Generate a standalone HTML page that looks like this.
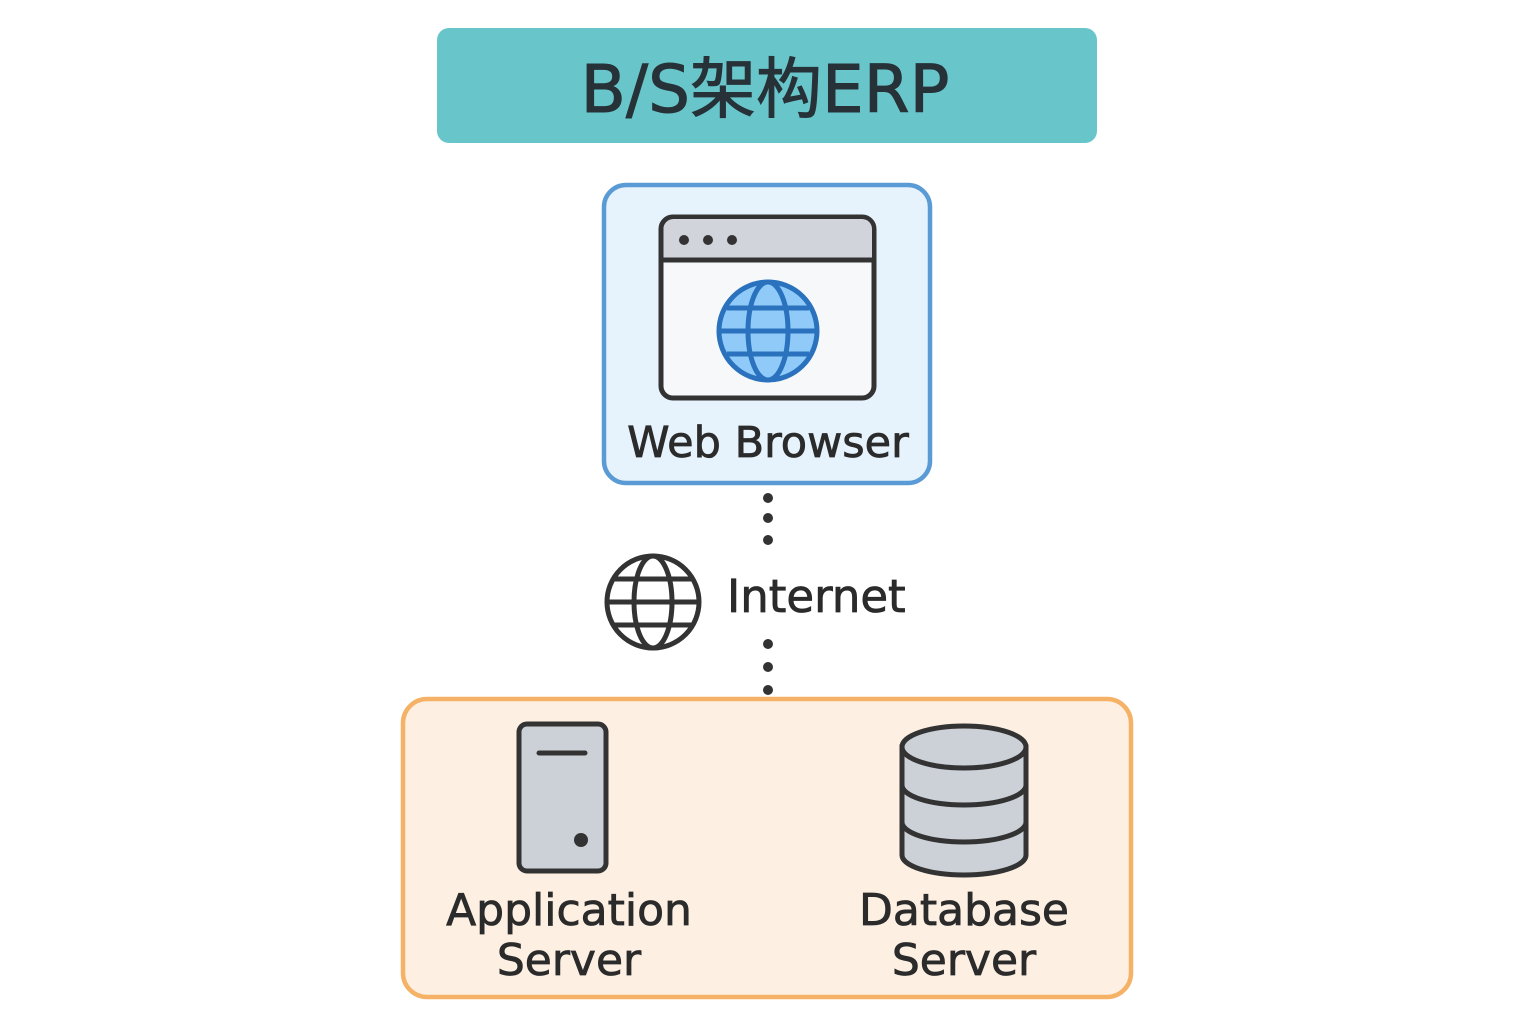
<!DOCTYPE html>
<html><head><meta charset="utf-8"><style>html,body{margin:0;padding:0;background:#fff}svg{display:block}</style></head><body>
<svg width="1536" height="1024" viewBox="0 0 1536 1024" xmlns="http://www.w3.org/2000/svg" font-family="'DejaVu Sans','Liberation Sans','Noto Sans CJK SC',sans-serif">
<rect x="437" y="28" width="660" height="115" rx="12" fill="#68c6cb"/>
<text x="765" y="112" text-anchor="middle" font-size="66" fill="#263238" stroke="#263238" stroke-width="1" font-family="'DejaVu Sans','Noto Sans CJK SC',sans-serif">B/S架构ERP</text>

<rect x="604" y="185" width="326" height="298" rx="22" fill="#e7f3fc" stroke="#5b9bd5" stroke-width="4.5"/>
<rect x="661" y="217" width="213" height="181" rx="12" fill="#f7f8fa" stroke="#333" stroke-width="5"/>
<path d="M663.5 260 V229 a10 10 0 0 1 10 -10 H862 a10 10 0 0 1 10 10 V260 Z" fill="#d1d5db"/>
<line x1="661" y1="260" x2="874" y2="260" stroke="#333" stroke-width="5"/>
<circle cx="684" cy="240" r="5" fill="#333"/><circle cx="708" cy="240" r="5" fill="#333"/><circle cx="732" cy="240" r="5" fill="#333"/>
<g stroke="#2a72bd" stroke-width="5" fill="none">
<circle cx="768" cy="331" r="49" fill="#90caf9"/>
<ellipse cx="768" cy="331" rx="20" ry="49"/>
<line x1="720" y1="331" x2="816" y2="331"/>
<line x1="727" y1="308" x2="809" y2="308"/>
<line x1="727" y1="354" x2="809" y2="354"/>
</g>
<g fill="#2b2b2b" stroke="#2b2b2b" stroke-width="0.8">
<text x="768" y="457" text-anchor="middle" font-size="43">Web Browser</text>
<text x="727" y="612" font-size="45">Internet</text>
<text x="569" y="925" text-anchor="middle" font-size="44">Application</text>
<text x="569" y="975" text-anchor="middle" font-size="44">Server</text>
<text x="964" y="925" text-anchor="middle" font-size="44">Database</text>
<text x="964" y="975" text-anchor="middle" font-size="44">Server</text>
</g>

<g fill="#333">
<circle cx="768" cy="498" r="5"/><circle cx="768" cy="518" r="5"/><circle cx="768" cy="540" r="5"/>
<circle cx="768" cy="644" r="5"/><circle cx="768" cy="667" r="5"/><circle cx="768" cy="690" r="5"/>
</g>
<g stroke="#333" stroke-width="5" fill="none">
<circle cx="653" cy="602" r="46" fill="#fff"/>
<ellipse cx="653" cy="602" rx="19" ry="46"/>
<line x1="607" y1="602" x2="699" y2="602"/>
<line x1="614" y1="579" x2="692" y2="579"/>
<line x1="614" y1="625" x2="692" y2="625"/>
</g>

<rect x="403" y="699" width="728" height="298" rx="24" fill="#fdf0e3" stroke="#f5b266" stroke-width="4.5"/>
<rect x="519" y="724" width="87" height="147" rx="8" fill="#ccd1d8" stroke="#333" stroke-width="5"/>
<line x1="539" y1="753" x2="585" y2="753" stroke="#333" stroke-width="5" stroke-linecap="round"/>
<circle cx="581" cy="840" r="7" fill="#333"/>

<g stroke="#333" stroke-width="5" fill="#ccd1d8">
<path d="M902 747 V855 A62 20 0 0 0 1026 855 V747 Z"/>
<path d="M902 785 A62 20 0 0 0 1026 785" fill="none"/>
<path d="M902 822 A62 20 0 0 0 1026 822" fill="none"/>
<ellipse cx="964" cy="747" rx="62" ry="21"/>
</g>
<g fill="#2b2b2b" stroke="#2b2b2b" stroke-width="0.8">
<text x="569" y="925" text-anchor="middle" font-size="44">Application</text>
<text x="569" y="975" text-anchor="middle" font-size="44">Server</text>
<text x="964" y="925" text-anchor="middle" font-size="44">Database</text>
<text x="964" y="975" text-anchor="middle" font-size="44">Server</text>
</g>
</svg>
</body></html>
